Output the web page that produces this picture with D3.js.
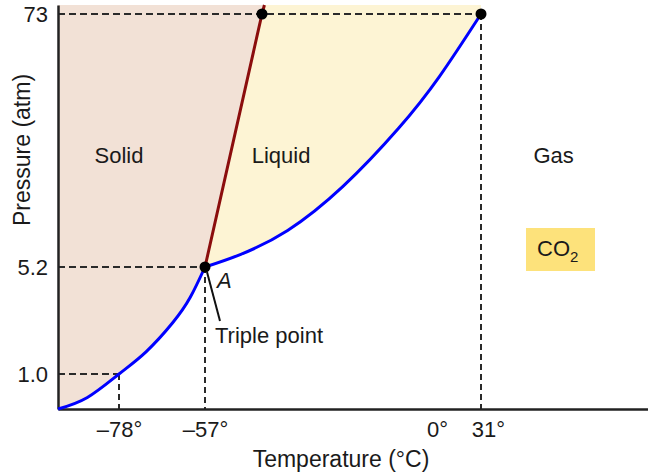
<!DOCTYPE html>
<html>
<head>
<meta charset="utf-8">
<script src="https://cdnjs.cloudflare.com/ajax/libs/d3/7.8.5/d3.min.js"></script>
<style>
  body { margin: 0; background: #fff; }
  text { font-family: "Liberation Sans", Arial, sans-serif; fill: #1a1a1a; }
</style>
</head>
<body>
<div id="graph"></div>
<script>
/*global d3 */

// tick values (°C and atm) - the axes of this diagram are not to scale
var ticks_temp = [-78, -57, 0, 31],
    ticks_pression = [1.0, 5.2, 73];

// repere des axes : bornes + ticks, pour des echelles par morceaux
var bornes_temp = [-100, -78, -57, 0, 31, 100],
    bornes_pression = [0, 1.0, 5.2, 73, 75.5];

// courbe solide / gaz (sublimation)
var sublimation = [
    {t: -100, p: 0}, {t: -89.4, p: 0.33}, {t: -78, p: 1.0},
    {t: -71.4, p: 1.87}, {t: -64.9, p: 3.01}, {t: -60.6, p: 4.01}, {t: -57, p: 5.2}
];

// courbe liquide / gaz (vaporisation)
var vaporisation = [
    {t: -57, p: 5.2}, {t: -48.2, p: 8.6}, {t: -36.7, p: 15.0}, {t: -23.1, p: 26.8},
    {t: -9.5, p: 42.3}, {t: 1.8, p: 56.3}, {t: 31, p: 73}
];

// courbe solide / liquide (fusion)
var fusion = [{t: -57, p: 5.2}, {t: -43.0, p: 73}, {t: -42.4, p: 75.5}];

// points marques
var points = [{t: -57, p: 5.2}, {t: -43.0, p: 73}, {t: 31, p: 73}];

// reperes en pointilles
var reperes = [{t: -78, p: 1.0}, {t: -57, p: 5.2}, {t: 31, p: 73}];

var etats = [
    {libelle: "Solid", t: -78, p: 35},
    {libelle: "Liquid", t: -38.3, p: 35},
    {libelle: "Gas", t: 61, p: 35}
];

function dessinDiagramme() {
    "use strict";
    var width = 648,
        height = 475,

        couleur_solide = "#f2e1d6",
        couleur_liquide = "#fdf4d4",
        couleur_axes = "#222",
        taille = "22px",

        svg = d3.select("#graph")
            .append("svg")
                .attr("width", width)
                .attr("height", height),

        x = d3.scaleLinear()
            .domain(bornes_temp)
            .range([58, 119, 205, 437, 481, 648]),

        y = d3.scaleLinear()
            .domain(bornes_pression)
            .range([409, 374, 267, 14, 5]),

        droite = d3.line()
            .x(function (d) { return x(d.t); })
            .y(function (d) { return y(d.p); }),

        ligne = d3.line()
            .x(function (d) { return x(d.t); })
            .y(function (d) { return y(d.p); })
            .curve(d3.curveNatural),

        haut = bornes_pression[bornes_pression.length - 1];

    // zone solide : axe, haut, fusion, sublimation
    svg.append("path")
        .attr("d", droite([{t: -100, p: 0}, {t: -100, p: haut}, fusion[2], fusion[0]]) +
            ligne(sublimation.slice().reverse()).replace(/^M/, "L") + "Z")
        .style("fill", couleur_solide);

    // zone liquide : fusion, haut, vaporisation
    svg.append("path")
        .attr("d", droite([fusion[0], fusion[2], {t: 31, p: haut}, {t: 31, p: 73}]) +
            ligne(vaporisation.slice().reverse()).replace(/^M/, "L") + "Z")
        .style("fill", couleur_liquide);

    // pointilles vers les axes
    svg.selectAll(".repere-h")
        .data(reperes)
        .enter()
        .append("line")
        .attr("x1", x(-100))
        .attr("x2", function (d) { return x(d.t); })
        .attr("y1", function (d) { return y(d.p); })
        .attr("y2", function (d) { return y(d.p); })
        .style("stroke", "#2a2a2a")
        .style("stroke-width", 2)
        .style("stroke-dasharray", "7 4");
    svg.selectAll(".repere-v")
        .data(reperes)
        .enter()
        .append("line")
        .attr("x1", function (d) { return x(d.t); })
        .attr("x2", function (d) { return x(d.t); })
        .attr("y1", function (d) { return y(d.p); })
        .attr("y2", y(0))
        .style("stroke", "#2a2a2a")
        .style("stroke-width", 2)
        .style("stroke-dasharray", "6 4");

    // axes
    svg.append("g")
        .attr("transform", "translate(0," + y(0) + ")")
        .call(d3.axisBottom(x)
            .tickValues(ticks_temp)
            .tickSize(0)
            .tickPadding(12)
            .tickFormat(function (d) { return (d < 0 ? "\u2013" + Math.abs(d) : d) + "°"; }))
        .call(function (g) {
            g.select(".domain").style("stroke", couleur_axes).style("stroke-width", 2.5);
            g.selectAll("text")
                .style("font-size", taille)
                .style("font-family", null)
                .attr("dx", function (d) { return d === 31 ? 7 : 0; });
        });

    svg.append("g")
        .attr("transform", "translate(" + x(-100) + ",0)")
        .call(d3.axisLeft(y)
            .tickValues(ticks_pression)
            .tickSize(0)
            .tickPadding(10)
            .tickFormat(function (d) { return d === 73 ? "73" : d3.format(".1f")(d); }))
        .call(function (g) {
            g.select(".domain").style("stroke", couleur_axes).style("stroke-width", 2.5);
            g.selectAll("text").style("font-size", taille).style("font-family", null);
        });

    svg.append("text")
        .attr("x", 341)
        .attr("y", 467)
        .style("text-anchor", "middle")
        .style("font-size", "23px")
        .text("Temperature (°C)");
    svg.append("text")
        .attr("transform", "translate(30,150) rotate(-90)")
        .style("text-anchor", "middle")
        .style("font-size", "23px")
        .text("Pressure (atm)");

    // courbes d'equilibre
    svg.append("path")
        .datum(sublimation)
        .attr("d", ligne)
        .style("fill", "none")
        .style("stroke", "#0000ff")
        .style("stroke-width", 3);
    svg.append("path")
        .datum(vaporisation)
        .attr("d", ligne)
        .style("fill", "none")
        .style("stroke", "#0000ff")
        .style("stroke-width", 3);
    svg.append("path")
        .datum(fusion)
        .attr("d", droite)
        .style("fill", "none")
        .style("stroke", "#8b0d0d")
        .style("stroke-width", 3);

    svg.selectAll(".point")
        .data(points)
        .enter()
        .append("circle")
        .attr("cx", function (d) { return x(d.t); })
        .attr("cy", function (d) { return y(d.p); })
        .attr("r", 5.5)
        .style("fill", "#000");

    // etats
    svg.selectAll(".etat")
        .data(etats)
        .enter()
        .append("text")
        .attr("x", function (d) { return x(d.t); })
        .attr("y", function (d) { return y(d.p); })
        .attr("dy", "0.35em")
        .style("text-anchor", "middle")
        .style("font-size", taille)
        .text(function (d) { return d.libelle; });

    // point triple
    svg.append("line")
        .attr("x1", x(-57) + 2)
        .attr("y1", y(5.2) + 5)
        .attr("x2", x(-57) + 15)
        .attr("y2", y(5.2) + 54)
        .style("stroke", "#111")
        .style("stroke-width", 2);
    svg.append("text")
        .attr("x", x(-57) + 12)
        .attr("y", y(5.2) + 21)
        .style("font-size", taille)
        .style("font-style", "italic")
        .text("A");
    svg.append("text")
        .attr("x", x(-57) + 10)
        .attr("y", y(5.2) + 76)
        .style("font-size", taille)
        .text("Triple point");

    // etiquette CO2
    svg.append("rect")
        .attr("x", 526)
        .attr("y", 228)
        .attr("width", 69)
        .attr("height", 43)
        .style("fill", "#fde27b");
    svg.append("text")
        .attr("x", 537)
        .attr("y", 256)
        .style("font-size", taille)
        .html("CO<tspan dy='6' font-size='15px'>2</tspan>");
}

dessinDiagramme();
</script>
</body>
</html>
